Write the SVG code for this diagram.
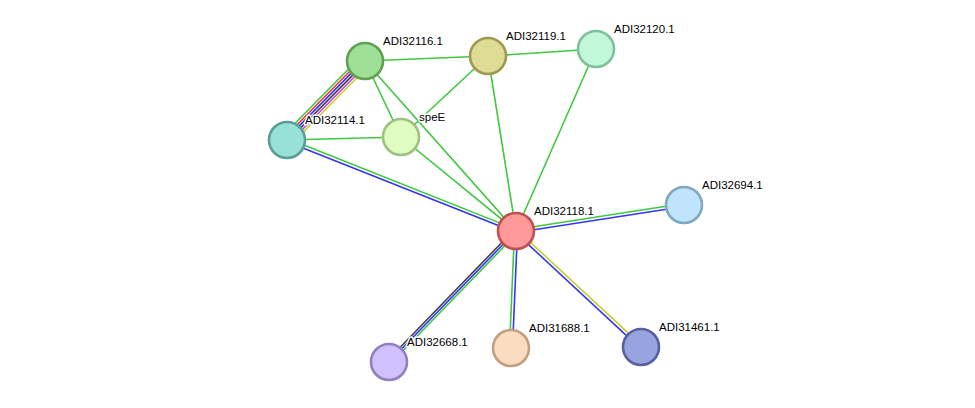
<svg xmlns="http://www.w3.org/2000/svg" width="975" height="408" viewBox="0 0 975 408">
<style>
.e{stroke-width:1.6;fill:none}
.g{stroke:#3fc83f}.b{stroke:#3535f5}.r{stroke:#f03535}.k{stroke:#444}.m{stroke:#d040d8}.y{stroke:#c4d028}
.n{stroke-width:2.6}
text{font-family:"Liberation Sans",Arial,sans-serif;font-size:11.5px;fill:#000;stroke:#fff;stroke-width:3px;paint-order:stroke;stroke-linejoin:round}
</style>
<rect width="975" height="408" fill="#fff"/>
<g id="edges">
<line class="e g" x1="360.73" y1="56.78" x2="282.73" y2="135.78"/>
<line class="e r" x1="362.44" y1="58.47" x2="284.44" y2="137.47"/>
<line class="e b" x1="364.15" y1="60.16" x2="286.15" y2="139.16"/>
<line class="e k" x1="365.85" y1="61.84" x2="287.85" y2="140.84"/>
<line class="e m" x1="367.56" y1="63.53" x2="289.56" y2="142.53"/>
<line class="e y" x1="369.27" y1="65.22" x2="291.27" y2="144.22"/>
<line class="e g" x1="365" y1="61" x2="488" y2="56"/>
<line class="e g" x1="365" y1="61" x2="401" y2="137"/>
<line class="e g" x1="365" y1="61" x2="516" y2="231"/>
<line class="e g" x1="488" y1="56" x2="596" y2="49"/>
<line class="e g" x1="488" y1="56" x2="401" y2="137"/>
<line class="e g" x1="488" y1="56" x2="516" y2="231"/>
<line class="e g" x1="596" y1="49" x2="516" y2="231"/>
<line class="e g" x1="287" y1="140" x2="401" y2="137"/>
<line class="e g" x1="401" y1="137" x2="516" y2="231"/>
<line class="e g" x1="287.55" y1="138.61" x2="516.55" y2="229.61"/>
<line class="e b" x1="286.45" y1="141.39" x2="515.45" y2="232.39"/>
<line class="e g" x1="515.77" y1="229.52" x2="683.77" y2="203.52"/>
<line class="e b" x1="516.23" y1="232.48" x2="684.23" y2="206.48"/>
<line class="e g" x1="514.5" y1="231" x2="509.5" y2="348"/>
<line class="e b" x1="517.5" y1="231" x2="512.5" y2="348"/>
<line class="e y" x1="517.02" y1="229.9" x2="642.02" y2="345.9"/>
<line class="e b" x1="514.98" y1="232.1" x2="639.98" y2="348.1"/>
<line class="e k" x1="514.42" y1="229.47" x2="387.42" y2="360.47"/>
<line class="e b" x1="516" y1="231" x2="389" y2="362"/>
<line class="e g" x1="517.58" y1="232.53" x2="390.58" y2="363.53"/>
</g>
<g id="ADI32116.1"><circle class="n" cx="365" cy="61" r="18" fill="#a0e096" stroke="#5fa052"/><text x="383" y="45">ADI32116.1</text></g>
<g id="ADI32119.1"><circle class="n" cx="488" cy="56" r="18" fill="#dedc96" stroke="#a09a50"/><text x="506" y="40">ADI32119.1</text></g>
<g id="ADI32120.1"><circle class="n" cx="596" cy="49" r="18" fill="#c0f8d8" stroke="#80c09c"/><text x="614" y="33">ADI32120.1</text></g>
<g id="ADI32114.1"><circle class="n" cx="287" cy="140" r="18" fill="#98e0d8" stroke="#5a9e98"/><text x="305" y="124">ADI32114.1</text></g>
<g id="speE"><circle class="n" cx="401" cy="137" r="18" fill="#e0fcc0" stroke="#a0c080"/><text x="419" y="121">speE</text></g>
<g id="ADI32118.1"><circle class="n" cx="516" cy="231" r="18" fill="#ff9898" stroke="#c05050"/><text x="534" y="215">ADI32118.1</text></g>
<g id="ADI32694.1"><circle class="n" cx="684" cy="205" r="18" fill="#c0e4fc" stroke="#80a8c0"/><text x="702" y="189">ADI32694.1</text></g>
<g id="ADI32668.1"><circle class="n" cx="389" cy="362" r="18" fill="#d0c0fc" stroke="#9080c0"/><text x="407" y="346">ADI32668.1</text></g>
<g id="ADI31688.1"><circle class="n" cx="511" cy="348" r="18" fill="#fcdcc0" stroke="#c0a080"/><text x="529" y="332">ADI31688.1</text></g>
<g id="ADI31461.1"><circle class="n" cx="641" cy="347" r="18" fill="#98a4e0" stroke="#5860a0"/><text x="659" y="331">ADI31461.1</text></g>
</svg>
